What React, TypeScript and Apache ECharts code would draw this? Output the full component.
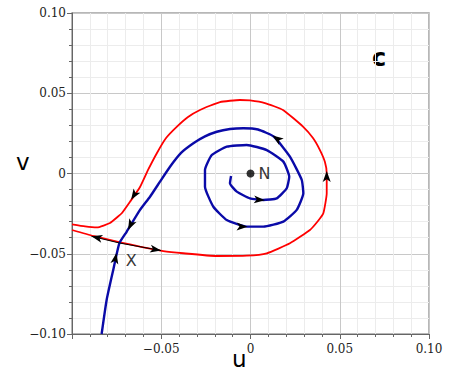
import React, { useEffect, useRef } from "react";
import * as echarts from "echarts";

// Red curve (unstable manifold of the saddle X)
const redU = [-0.1, -0.0927, -0.086, -0.0787, -0.0742, -0.072, -0.0675, -0.0619, -0.0574, -0.0524, -0.0473, -0.0412, -0.035, -0.0283, -0.0171, -0.0059, -0.0003, 0.0081, 0.0182, 0.0294, 0.035, 0.0389, 0.0417, 0.0427, 0.0427, 0.0408, 0.0378, 0.0333, 0.0221, 0.0091, -0.0021, -0.0189, -0.0376, -0.0489, -0.0619, -0.0731, -0.0881, -0.1];
const redV = [-0.0317, -0.033, -0.0336, -0.0308, -0.0268, -0.0246, -0.0176, -0.0084, 0.0022, 0.0128, 0.0221, 0.0292, 0.0352, 0.0396, 0.0445, 0.0458, 0.0455, 0.0439, 0.0396, 0.0292, 0.0221, 0.0146, 0.0072, 0.0001, -0.0123, -0.0248, -0.0296, -0.0352, -0.0435, -0.0497, -0.0512, -0.0514, -0.0497, -0.0483, -0.0455, -0.0429, -0.0389, -0.0352];

// Blue curve (stable manifold of X, spiralling to N)
const blueU = [-0.0834, -0.0806, -0.0769, -0.0735, -0.0694, -0.0619, -0.0563, -0.0507, -0.0451, -0.0389, -0.032, -0.0255, -0.0189, -0.0115, -0.004, 0.0042, 0.0132, 0.0221, 0.0287, 0.0296, 0.0259, 0.0184, 0.0072, -0.0021, -0.0133, -0.0208, -0.0255, -0.0255, -0.0217, -0.0133, -0.0021, 0.0091, 0.0184, 0.0217, 0.0203, 0.0147, 0.0072, -0.0003, -0.0077, -0.0115, -0.0109];
const blueV = [-0.1, -0.0788, -0.0601, -0.0435, -0.0363, -0.0227, -0.0145, -0.0051, 0.0042, 0.0128, 0.0188, 0.0231, 0.026, 0.0277, 0.0282, 0.0274, 0.0229, 0.0105, -0.004, -0.0123, -0.0227, -0.03, -0.0331, -0.0331, -0.029, -0.0207, -0.0082, 0.0022, 0.0115, 0.0167, 0.0178, 0.0146, 0.0074, -0.002, -0.0092, -0.0155, -0.0165, -0.0155, -0.0113, -0.0061, -0.0016];

// Arrowheads on the curves: [fromU, fromV, toU, toV]
const headArrows = [
  [-0.0641, -0.0115, -0.0669, -0.0164],
  [-0.0664, -0.0302, -0.0686, -0.0352],
  [-0.0765, -0.0576, -0.0751, -0.0495],
  [0.0427, -0.0053, 0.0427, 0.0016],
  [0.0171, 0.0199, 0.0123, 0.0237],
  [-0.007, -0.033, -0.0016, -0.0331],
  [0.003, -0.0162, 0.0081, -0.0166],
];
// Arrows drawn out of the saddle X (with their shafts)
const saddleX = [-0.0735, -0.0433];
const saddleArrowEnds = [
  [-0.0891, -0.0391],
  [-0.0501, -0.048],
];
const nodeN = [0, 0];

const xTickValues = [-0.1, -0.05, 0, 0.05, 0.1];
const xTickLabels = ["", "\u22120.05", "0", "0.05", "0.10"];
const yTickValues = [-0.1, -0.05, 0, 0.05, 0.1];
const yTickLabels = ["\u22120.10", "\u22120.05", "0", "0.05", "0.10"];

function labelFor(values: number[], labels: string[], v: number) {
  for (let i = 0; i < values.length; i++) {
    if (Math.abs(values[i] - v) < 1e-9) return labels[i];
  }
  return "";
}

export default function App() {
  const ref = useRef<HTMLDivElement>(null);
  useEffect(() => {
    if (!ref.current) return;
    const chart = echarts.init(ref.current, undefined, { renderer: "svg" });
    const red = redU.map((u, i) => [u, redV[i]]);
    const blue = blueU.map((u, i) => [u, blueV[i]]);
    const labelFont = { fontFamily: "'DejaVu Serif', serif", fontSize: 12, color: "#222" };
    const axisCommon = {
      type: "value" as const,
      min: -0.1,
      max: 0.1,
      interval: 0.05,
      minorTick: { show: true, splitNumber: 5, length: 3, lineStyle: { color: "#666" } },
      minorSplitLine: { show: true, lineStyle: { color: "#ececec", width: 1 } },
      splitLine: { show: true, lineStyle: { color: "#c8c8c8", width: 1 } },
      axisLine: { show: true, onZero: false, lineStyle: { color: "#666", width: 1 } },
      axisTick: { show: true, length: 5, lineStyle: { color: "#666" } },
    };
    chart.setOption({
      animation: false,
      backgroundColor: "#fff",
      grid: {
        left: 72,
        top: 13,
        width: 357,
        height: 321,
        show: true,
        borderColor: "#a0a0a0",
        borderWidth: 1.5,
        backgroundColor: "transparent",
        containLabel: false,
        outerBoundsMode: "none",
      },
      xAxis: {
        ...axisCommon,
        axisLabel: {
          ...labelFont,
          margin: 9,
          formatter: (v: number) => labelFor(xTickValues, xTickLabels, v),
        },
      },
      yAxis: {
        ...axisCommon,
        axisLabel: {
          ...labelFont,
          margin: 6,
          formatter: (v: number) => labelFor(yTickValues, yTickLabels, v),
        },
      },
      graphic: [
        {
          type: "text",
          left: 232,
          top: 347,
          style: { text: "u", fontFamily: "DejaVu Sans", fontSize: 23, fill: "#000" },
        },
        {
          type: "text",
          left: 16,
          top: 150,
          style: { text: "v", fontFamily: "DejaVu Sans", fontSize: 23, fill: "#000" },
        },
        {
          type: "text",
          left: 372,
          top: 46,
          style: { text: "c", fontFamily: "DejaVu Sans", fontWeight: "bold", fontSize: 24, fill: "#000" },
        },
      ],
      series: [
        {
          type: "line",
          data: red,
          showSymbol: false,
          smooth: 0.15,
          lineStyle: { color: "#ff0000", width: 1.8 },
          z: 2,
        },
        {
          type: "line",
          data: blue,
          showSymbol: false,
          smooth: 0.15,
          lineStyle: { color: "#0a0aa8", width: 2.4 },
          z: 2,
        },
        {
          type: "lines",
          coordinateSystem: "cartesian2d",
          symbol: ["none", "arrow"],
          symbolSize: [[6, 11], [6, 11]],
          lineStyle: { color: "#000", width: 1, opacity: 1 },
          z: 4,
          data: saddleArrowEnds.map((e) => ({ coords: [saddleX, e] })),
        },
        {
          type: "lines",
          coordinateSystem: "cartesian2d",
          symbol: ["none", "arrow"],
          symbolSize: [[6, 11], [6, 11]],
          lineStyle: { color: "#000", width: 0, opacity: 1 },
          z: 4,
          data: headArrows.map((a) => ({ coords: [[a[0], a[1]], [a[2], a[3]]] })),
        },
        {
          type: "scatter",
          data: [nodeN],
          symbol: "circle",
          symbolSize: 8,
          itemStyle: { color: "#000" },
          z: 5,
          label: {
            show: true,
            formatter: "N",
            position: "right",
            distance: 4,
            fontFamily: "DejaVu Sans",
            fontSize: 16,
            color: "#000",
          },
        },
        {
          type: "scatter",
          data: [saddleX],
          symbolSize: 0,
          itemStyle: { color: "transparent" },
          z: 5,
          label: {
            show: true,
            formatter: "X",
            position: "inside",
            offset: [12, 18],
            fontFamily: "DejaVu Sans",
            fontSize: 16,
            color: "#000",
          },
        },
      ],
    });
    return () => chart.dispose();
  }, []);
  return (
    <div
      ref={ref}
      style={{ position: "fixed", left: 0, top: 0, width: 465, height: 382, background: "#fff" }}
    />
  );
}
